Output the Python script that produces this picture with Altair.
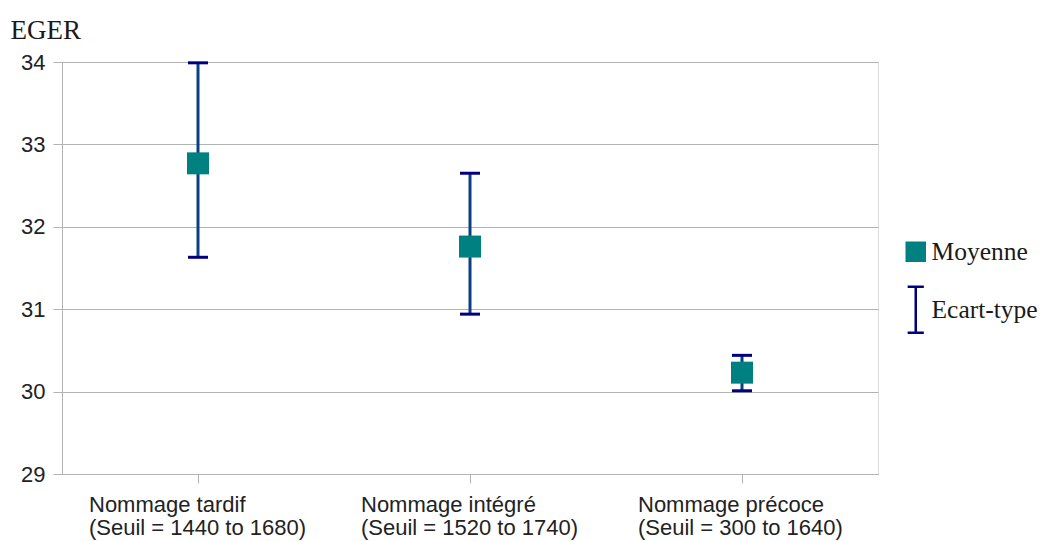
import altair as alt
import pandas as pd

categories = [
    "Nommage tardif|(Seuil = 1440 to 1680)",
    "Nommage intégré|(Seuil = 1520 to 1740)",
    "Nommage précoce|(Seuil = 300 to 1640)",
]
means = [32.77, 31.76, 30.23]
lows = [31.63, 30.94, 30.01]
highs = [33.99, 32.65, 30.44]
series_names = ["Moyenne", "Ecart-type"]
y_ticks = [29, 30, 31, 32, 33, 34]

df = pd.DataFrame({"cat": categories, "mean": means, "low": lows, "high": highs,
                   "series": [series_names[0]] * len(categories)})

GRID = "#b3b3b3"
TEAL = "#008080"
NAVY = "#000080"
STEM = "#0b3f86"
IBEAM = "M-0.9,-2.55H0.9M0,-2.55V2.55M-0.9,2.55H0.9"

x_enc = alt.X(
    "cat:N",
    sort=categories,
    scale=alt.Scale(paddingInner=0, paddingOuter=0),
    axis=alt.Axis(
        title=None,
        labelExpr="split(datum.label, '|')",
        labelAngle=0,
        labelAlign="left",
        labelBaseline="top",
        labelOffset={"condition": {"test": "indexof(datum.value, 'précoce') >= 0", "value": -104}, "value": -109},
        labelPadding=11,
        labelLineHeight=23,
        labelLimit=400,
        labelFont="Liberation Sans",
        labelFontSize=22,
        labelColor="#222222",
        tickSize=9,
        tickColor=GRID,
        domainColor=GRID,
        grid=False,
    ),
)

y_scale = alt.Scale(domain=[29, 34], nice=False, zero=False)
y_axis = alt.Axis(
    values=y_ticks,
    format="d",
    title="EGER",
    titleAngle=0,
    titleAlign="left",
    titleBaseline="alphabetic",
    titleX=-52,
    titleY=-24,
    titleFont="Liberation Serif",
    titleFontSize=27,
    titleFontWeight="normal",
    titleColor="#1a1a1a",
    labelFont="Liberation Sans",
    labelFontSize=22,
    labelColor="#222222",
    labelPadding=8,
    tickSize=9,
    tickColor=GRID,
    domainColor=GRID,
    gridColor=GRID,
    gridWidth=1,
)

color_scale = alt.Scale(domain=series_names, range=[TEAL, NAVY])
shape_scale = alt.Scale(domain=series_names, range=["square", IBEAM])
legend = alt.Legend(
    title=None,
    orient="none",
    legendX=841,
    legendY=177,
    symbolSize=324,
    symbolStrokeWidth=2.5,
    symbolOpacity=1,
    rowPadding=15,
    labelOffset=3,
    labelLimit=300,
    labelFont="Liberation Serif",
    labelFontSize=25.5,
    labelColor="#1a1a1a",
    padding=0,
)

base = alt.Chart(df)

stems = base.mark_rule(strokeWidth=3, color=STEM).encode(
    x=x_enc,
    y=alt.Y("low:Q", scale=y_scale, axis=y_axis),
    y2="high:Q",
)

caps_low = base.mark_tick(size=20, thickness=3, orient="horizontal", opacity=1, color=NAVY).encode(
    x=x_enc,
    y=alt.Y("low:Q", scale=y_scale),
)
caps_high = base.mark_tick(size=20, thickness=3, orient="horizontal", opacity=1, color=NAVY).encode(
    x=x_enc,
    y=alt.Y("high:Q", scale=y_scale),
)

points = base.mark_point(filled=True, size=484, opacity=1, strokeWidth=0).encode(
    x=x_enc,
    y=alt.Y("mean:Q", scale=y_scale),
    fill=alt.Fill("series:N", scale=color_scale, legend=legend),
    stroke=alt.Stroke("series:N", scale=color_scale, legend=legend),
    shape=alt.Shape("series:N", scale=shape_scale, legend=legend),
)

chart = (
    alt.layer(stems, caps_low, caps_high, points)
    .properties(
        width=816,
        height=412,
        autosize=alt.AutoSizeParams(type="none"),
        padding={"left": 54, "top": 54, "right": 160, "bottom": 67},
    )
    .configure_view(stroke=GRID, strokeWidth=1)
    .configure(background="white")
)

chart.save("out.html", embed_options={"renderer": "svg", "actions": False})
